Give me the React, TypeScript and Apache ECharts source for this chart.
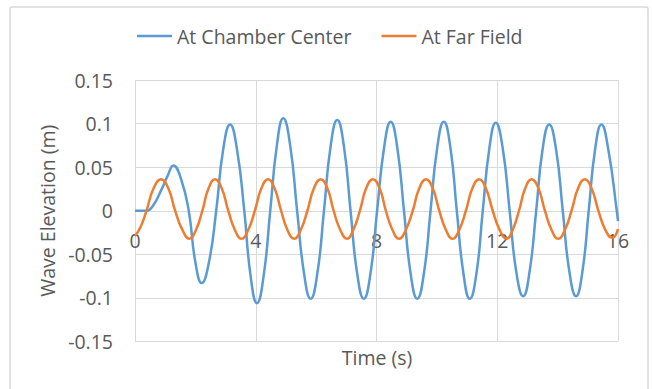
import React, { useEffect, useRef } from "react";
import * as echarts from "echarts";

// Series names shown in the legend
const seriesNames = ["At Chamber Center", "At Far Field"];

// Wave elevation at the chamber center: [time (s), elevation (m)]
const chamberCenter: [number, number][] = [
  [0, 0], [0.38, 0], [0.6, 0.006], [0.9, 0.026], [1.08, 0.04], [1.27, 0.052],
  [1.52, 0.037], [1.78, 0], [2.0, -0.059], [2.21, -0.083], [2.45, -0.059],
  [2.69, 0], [2.92, 0.07], [3.15, 0.099], [3.38, 0.07], [3.62, 0],
  [3.83, -0.075], [4.04, -0.106], [4.26, -0.075], [4.48, 0], [4.7, 0.075],
  [4.91, 0.106], [5.14, 0.075], [5.37, 0], [5.6, -0.072], [5.82, -0.101],
  [6.04, -0.072], [6.26, 0], [6.48, 0.074], [6.7, 0.104], [6.92, 0.074],
  [7.14, 0], [7.36, -0.072], [7.58, -0.101], [7.8, -0.072], [8.02, 0],
  [8.25, 0.072], [8.47, 0.102], [8.69, 0.072], [8.91, 0], [9.13, -0.072],
  [9.35, -0.101], [9.57, -0.072], [9.79, 0], [10.01, 0.072], [10.23, 0.102],
  [10.45, 0.072], [10.66, 0], [10.88, -0.072], [11.09, -0.101], [11.31, -0.072],
  [11.52, 0], [11.74, 0.072], [11.95, 0.101], [12.18, 0.072], [12.41, 0],
  [12.63, -0.07], [12.86, -0.098], [13.07, -0.07], [13.29, 0], [13.5, 0.07],
  [13.72, 0.099], [13.95, 0.07], [14.17, 0], [14.39, -0.07], [14.61, -0.098],
  [14.82, -0.07], [15.03, 0], [15.24, 0.07], [15.45, 0.099], [15.68, 0.07],
  [15.96, 0], [16, -0.012],
];

// Wave elevation at the far field: [time (s), elevation (m)]
const farField: [number, number][] = [
  [0, -0.029], [0.18, -0.019], [0.38, 0], [0.62, 0.026], [0.86, 0.036],
  [1.1, 0.026], [1.33, 0], [1.57, -0.022], [1.8, -0.032], [2.02, -0.022],
  [2.23, 0], [2.44, 0.026], [2.65, 0.036], [2.87, 0.026], [3.09, 0],
  [3.31, -0.022], [3.53, -0.032], [3.75, -0.022], [3.97, 0], [4.19, 0.026],
  [4.41, 0.036], [4.62, 0.026], [4.84, 0], [5.05, -0.022], [5.27, -0.032],
  [5.49, -0.022], [5.71, 0], [5.93, 0.026], [6.15, 0.036], [6.37, 0.026],
  [6.58, 0], [6.8, -0.022], [7.02, -0.032], [7.23, -0.022], [7.45, 0],
  [7.66, 0.026], [7.88, 0.036], [8.1, 0.026], [8.31, 0], [8.53, -0.022],
  [8.75, -0.032], [8.97, -0.022], [9.2, 0], [9.42, 0.026], [9.64, 0.036],
  [9.86, 0.026], [10.08, 0], [10.3, -0.022], [10.52, -0.032], [10.74, -0.022],
  [10.96, 0], [11.18, 0.026], [11.4, 0.036], [11.62, 0.026], [11.85, 0],
  [12.08, -0.022], [12.31, -0.032], [12.51, -0.022], [12.72, 0], [12.93, 0.026],
  [13.14, 0.036], [13.36, 0.026], [13.58, 0], [13.8, -0.022], [14.02, -0.032],
  [14.24, -0.022], [14.46, 0], [14.68, 0.026], [14.9, 0.036], [15.12, 0.026],
  [15.35, 0], [15.58, -0.022], [15.81, -0.031], [16, -0.021],
];

// Axis ranges and tick steps
const timeRange = { min: 0, max: 16, step: 4 };
const elevationRange = { min: -0.15, max: 0.15, step: 0.05 };

const FONT = "'Open Sans', Lato, sans-serif";
const FONT_SIZE = 19.5;
const TEXT = "#595959";
const GRID = "#D9D9D9";

// Plot area edges in pixels
const PLOT = { left: 135, right: 34, top: 80, bottom: 47.5 };
const PLOT_HEIGHT = 389 - PLOT.top - PLOT.bottom;

// The time labels sit just below the zero-elevation line
const zeroLineOffset =
  (PLOT_HEIGHT * (0 - elevationRange.min)) / (elevationRange.max - elevationRange.min);

export default function App() {
  const ref = useRef<HTMLDivElement>(null);

  useEffect(() => {
    if (!ref.current) return;
    const chart = echarts.init(ref.current, undefined, { renderer: "svg" });
    chart.setOption({
      animation: false,
      backgroundColor: "#ffffff",
      textStyle: { fontFamily: FONT },
      graphic: [
        {
          type: "rect",
          shape: { x: 10, y: 7, width: 638, height: 392, r: 2 },
          style: { fill: "none", stroke: GRID, lineWidth: 1.5 },
          silent: true,
        },
        {
          type: "text",
          x: 377,
          y: 357,
          style: {
            text: "Time (s)",
            fill: TEXT,
            font: `${FONT_SIZE}px ${FONT}`,
            align: "center",
            verticalAlign: "middle",
          },
        },
      ],
      legend: {
        left: 137,
        top: 26,
        padding: 0,
        icon: "rect",
        itemWidth: 35,
        itemHeight: 2.5,
        itemGap: 30,
        textStyle: { color: TEXT, fontSize: FONT_SIZE, fontFamily: FONT },
        data: seriesNames,
      },
      grid: PLOT,
      xAxis: {
        type: "value",
        min: timeRange.min,
        max: timeRange.max,
        interval: timeRange.step,
        axisLine: { show: true, lineStyle: { color: GRID, width: 1 } },
        axisTick: { show: false },
        axisLabel: {
          color: TEXT,
          fontSize: FONT_SIZE,
          margin: 20 - zeroLineOffset,
          fontFamily: FONT,
        },
        splitLine: { show: true, lineStyle: { color: GRID, width: 1 } },
      },
      yAxis: {
        type: "value",
        min: elevationRange.min,
        max: elevationRange.max,
        interval: elevationRange.step,
        name: "Wave Elevation (m)",
        nameLocation: "middle",
        nameGap: 78,
        nameTextStyle: { color: TEXT, fontSize: FONT_SIZE, fontFamily: FONT },
        axisLine: { show: false },
        axisTick: { show: false },
        axisLabel: {
          color: TEXT,
          fontSize: FONT_SIZE,
          margin: 22,
          fontFamily: FONT,
          formatter: (v: number) => String(Math.round(v * 100) / 100),
        },
        splitLine: { show: true, lineStyle: { color: GRID, width: 1 } },
      },
      series: [
        {
          name: seriesNames[0],
          type: "line",
          data: chamberCenter,
          smooth: 0.5,
          symbol: "none",
          lineStyle: { color: "#5B9BD5", width: 2.5 },
          itemStyle: { color: "#5B9BD5" },
          z: 2,
        },
        {
          name: seriesNames[1],
          type: "line",
          data: farField,
          smooth: 0.5,
          symbol: "none",
          lineStyle: { color: "#ED7D31", width: 2.5 },
          itemStyle: { color: "#ED7D31" },
          z: 3,
        },
      ],
    });
    return () => chart.dispose();
  }, []);

  return (
    <div
      ref={ref}
      style={{ position: "fixed", left: 0, top: 0, width: 652, height: 389 }}
    />
  );
}
